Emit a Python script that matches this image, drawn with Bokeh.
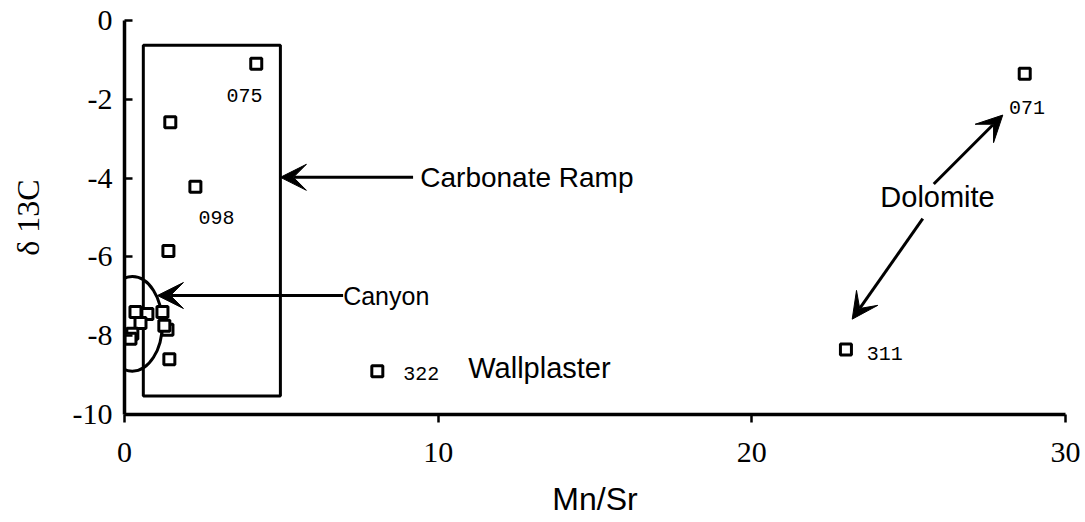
from bokeh.plotting import figure
from bokeh.models import Arrow, VeeHead, FixedTicker, ColumnDataSource
from bokeh.core.properties import value
from bokeh.embed import file_html
from bokeh.resources import INLINE

# ---- data ----
mn_sr = [4.2, 1.46, 2.26, 1.4, 28.7, 23.0, 8.06,
         0.35, 0.73, 1.21, 0.51, 0.25, 0.19, 1.37, 1.27, 1.43]
d13c = [-1.1, -2.58, -4.22, -5.85, -1.35, -8.35, -8.9,
        -7.4, -7.45, -7.4, -7.68, -7.95, -8.08, -7.85, -7.75, -8.6]

sample_ids = ["075", "098", "071", "311", "322"]
sample_x = [3.25, 2.36, 28.2, 23.66, 8.89]
sample_y = [-1.9, -5.0, -2.2, -8.45, -8.95]

x_ticks = [0, 10, 20, 30]
x_tick_labels = ["0", "10", "20", "30"]
y_ticks = [0, -2, -4, -6, -8, -10]
y_tick_labels = ["0", "-2", "-4", "-6", "-8", "-10"]

# annotation geometry (data units)
ramp_box = dict(left=0.6, right=4.97, top=-0.63, bottom=-9.53)
canyon_ellipse = dict(x=0.25, y=-7.7, w=1.91, h=2.4)

p = figure(width=1085, height=522, x_range=(0, 30), y_range=(-10, 0),
           output_backend="svg", toolbar_location=None,
           min_border_left=124, min_border_top=20, min_border_right=20,
           min_border_bottom=108)
p.outline_line_color = None
p.xgrid.visible = False
p.ygrid.visible = False
p.background_fill_color = "white"
p.border_fill_color = "white"

# axes
xa = p.xaxis[0]
xa.ticker = FixedTicker(ticks=x_ticks)
xa.major_label_overrides = {t: l for t, l in zip(x_ticks, x_tick_labels)}
xa.major_tick_in = 0
xa.major_tick_out = 8
xa.minor_tick_line_color = None
xa.axis_line_width = 3.5
xa.axis_line_color = "black"
xa.major_tick_line_width = 2.5
xa.major_tick_line_color = "black"
xa.major_label_text_font = "Liberation Serif"
xa.major_label_text_font_size = "30px"
xa.major_label_text_color = "black"
xa.major_label_standoff = 20
xa.axis_label = "Mn/Sr"
xa.axis_label_text_font = "Liberation Sans"
xa.axis_label_text_font_size = "32px"
xa.axis_label_text_font_style = "normal"
xa.axis_label_text_color = "black"
xa.axis_label_standoff = 16

ya = p.yaxis[0]
ya.ticker = FixedTicker(ticks=y_ticks)
ya.major_label_overrides = {t: l for t, l in zip(y_ticks, y_tick_labels)}
ya.major_tick_in = 8
ya.major_tick_out = 0
ya.minor_tick_line_color = None
ya.axis_line_width = 3.5
ya.axis_line_color = "black"
ya.major_tick_line_width = 2.5
ya.major_tick_line_color = "black"
ya.major_label_text_font = "Liberation Serif"
ya.major_label_text_font_size = "30px"
ya.major_label_text_color = "black"
ya.major_label_standoff = 12
ya.axis_label = "δ 13C"
ya.axis_label_text_font = "Liberation Serif"
ya.axis_label_text_font_size = "32px"
ya.axis_label_text_font_style = "normal"
ya.axis_label_text_color = "black"
ya.axis_label_standoff = 24

# carbonate ramp box
p.quad(left=[ramp_box["left"]], right=[ramp_box["right"]],
       top=[ramp_box["top"]], bottom=[ramp_box["bottom"]],
       fill_color=None, line_color="black", line_width=3)

# canyon ellipse
p.ellipse(x=[canyon_ellipse["x"]], y=[canyon_ellipse["y"]],
          width=[canyon_ellipse["w"]], height=[canyon_ellipse["h"]],
          fill_color=None, line_color="black", line_width=3)

# points
src = ColumnDataSource(dict(x=mn_sr, y=d13c))
p.scatter("x", "y", source=src, marker="square", size=11,
          fill_color="white", line_color="black", line_width=3)

# sample labels
p.text(x=sample_x, y=sample_y, text=sample_ids,
       text_font=value("Liberation Mono"), text_font_size="20px",
       text_align="left", text_baseline="middle", text_color="black")

# annotation texts
ann_text = ["Carbonate Ramp", "Canyon", "Wallplaster", "Dolomite"]
ann_x = [9.43, 6.97, 10.96, 25.92]
ann_y = [-3.98, -6.98, -8.83, -4.48]
ann_align = ["left", "left", "left", "center"]
ann_size = ["28px", "25px", "29px", "29px"]
for t, x, y, a, s in zip(ann_text, ann_x, ann_y, ann_align, ann_size):
    p.text(x=[x], y=[y], text=[t], text_font=value("Liberation Sans"),
           text_font_size=s, text_align=a, text_baseline="middle",
           text_color="black")

# arrows
arrows = [
    (9.2, -3.98, 4.97, -3.98),
    (6.97, -6.98, 1.05, -6.98),
    (25.8, -4.15, 28.0, -2.4),
    (25.45, -5.03, 23.2, -7.58),
]
for xs, ys, xe, ye in arrows:
    p.add_layout(Arrow(end=VeeHead(size=26, fill_color="black", line_color="black",
                                   line_width=1),
                       x_start=xs, y_start=ys, x_end=xe, y_end=ye,
                       line_color="black", line_width=3))

open("out.html", "w").write(file_html(p, INLINE))
